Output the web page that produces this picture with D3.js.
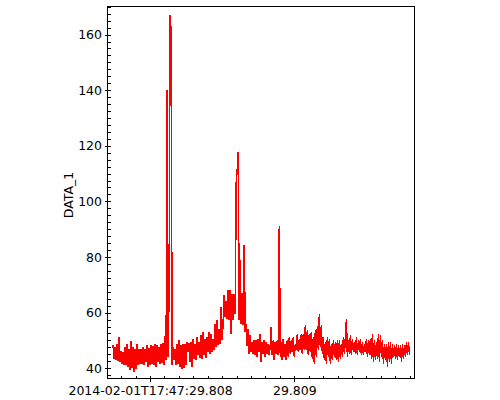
<!DOCTYPE html>
<html>
<head>
<meta charset="utf-8">
<script src="https://cdn.jsdelivr.net/npm/d3@7"></script>
<style>
  body { margin: 0; background: #fff; }
  text { font-family: "DejaVu Sans", sans-serif; font-size: 12.5px; fill: #000; }
  .tick line { shape-rendering: crispEdges; }
</style>
</head>
<body>
<svg id="viz" width="500" height="400"></svg>
<script>
// sample times are seconds within 2014-02-01T17:47
var sampleStart = 29.8077431;
var sampleStep = 0.0000069444;

// DATA_1 readings, one per sample
var signal = [
	// quiet start
	48.5,43.4, 47.6,42.8, 48.8,42.5, 51.2,42.2, 46.0,41.6, 45.8,41.0, 47.6,41.2, 48.8,40.4, 47.0,39.2, 49.7,40.0,
	47.6,38.6, 47.0,39.8, 48.8,41.0, 46.8,41.6, 47.0,41.6, 47.6,41.0, 47.0,42.2, 48.2,40.4, 47.4,41.0, 48.2,41.6,
	48.0,41.0, 48.8,40.4, 48.2,42.2, 47.6,41.6, 48.8,42.0, 49.0,41.0, 51.5,42.8,
	// first spikes
	140, 44, 68, 167, 161, 41,
	47.6,42.8, 47.0,41.0, 48.8,41.6, 50.0,40.4, 48.2,39.8, 48.8,40.0, 48.8,41.0,
	// rise
	49.5,45.8, 49.0,42.2, 49.5,40.4, 50.6,43.4, 48.8,42.8, 51.2,44.6, 49.4,43.6, 51.8,43.4, 53.0,44.6, 50.6,43.8,
	51.2,45.8, 53.0,45.2, 52.4,45.8, 50.6,46.4, 56.0,47.6, 57.2,48.2, 54.0,48.8, 62.0,50.0,
	// peak
	57.2, 66.5, 58.4, 64.0, 57.8, 68.2, 57.2, 68.0, 52.4, 66.7, 57.2, 66.5, 59.6, 106.8, 111.4, 117.6, 57.2, 79.0,
	56.0, 67.0, 55.4, 84.2, 53.0,
	// fall
	56.0,48.0, 54.2,45.2, 51.8,45.8, 49.4,45.2, 50.0,44.6, 50.0,44.0, 50.6,45.8, 52.4,42.2, 49.5,45.2, 50.0,44.0,
	49.4,45.2, 48.8,
	44.6, 48.2, 54.8, 44.6, 50.0, 42.8, 49.4, 45.2, 50.0, 44.6, 91.0, 44.0, 49.4, 42.8, 50.6, 44.0, 48.8, 42.8, 50.0, 44.0,
	51.2, 45.2, 50.0, 45.8, 51.2, 44.0, 48.8, 46.4, 52.4, 45.8, 50.6, 46.4, 52.4, 45.2, 52.4, 46.4, 55.4, 46.4, 53.6, 44.6,
	52.4, 45.8, 53.0, 43.4, 51.2, 41.6, 53.6, 44.0, 55.0, 46.4, 59.5, 47.5, 55.4, 45.2, 51.2, 42.8, 49.4, 41.6, 51.2, 44.0,
	50.6, 41.6, 48.8, 42.8, 50.0, 44.0, 49.4, 42.8, 50.0, 42.2, 50.0, 43.4, 48.8, 44.0, 51.2, 45.2, 51.2, 57.6, 44.0, 50.0,
	// tail
	45.2, 51.8, 44.6, 50.6, 45.8, 49.4, 45.2, 51.2, 44.6, 50.0, 45.8, 50.6, 44.6, 49.4, 44.6, 48.8, 45.8, 50.6, 44.0, 50.0,
	44.6, 50.6, 43.4, 52.4, 42.2, 50.0, 42.8, 49.4, 43.4, 52.4, 42.2, 51.8, 44.0, 50.0, 41.6, 48.8, 42.8, 48.8, 40.4, 49.4,
	42.2, 49.4, 41.6, 48.8, 44.0, 48.2, 43.4, 48.8, 42.8, 48.2, 44.0, 48.2, 42.2, 48.8, 43.4, 48.2, 44.0, 49.4, 44.6, 49.4, 44.6
];

var xDomain = [29.8077049, 29.8098333];
var yDomain = [36.3, 170.1];
var xMajorTicks = [29.808, 29.809];
var xTickLabels = ["2014-02-01T17:47:29.808", "29.809"];
var yMajorTicks = [40, 60, 80, 100, 120, 140, 160];
var yLabel = "DATA_1";

var box = { left: 107.5, right: 414.5, top: 6.5, bottom: 378.5 };

var svg = d3.select("#viz");

var x = d3.scaleLinear().domain(xDomain).range([box.left, box.right]);
var y = d3.scaleLinear().domain(yDomain).range([box.bottom, box.top]);

// minor ticks: 0.0001 s on x, 2.5 on y
var xMinor = d3.range(Math.ceil(xDomain[0] * 10000), Math.floor(xDomain[1] * 10000) + 1).map(function(k){ return k / 10000; });
var yMinor = d3.range(Math.ceil(yDomain[0] / 2.5), Math.floor(yDomain[1] / 2.5) + 1).map(function(k){ return k * 2.5; });

// the trace
var line = d3.line()
	.x(function(d, i) { return x(sampleStart + i * sampleStep); })
	.y(function(d) { return y(d); });

svg.append("path")
	.datum(signal)
	.attr("d", line)
	.attr("fill", "none")
	.attr("stroke", "#ff0000")
	.attr("stroke-width", 1.5)
	.attr("shape-rendering", "crispEdges");

// frame
svg.append("rect")
	.attr("x", box.left)
	.attr("y", box.top)
	.attr("width", box.right - box.left)
	.attr("height", box.bottom - box.top)
	.attr("fill", "none")
	.attr("stroke", "#000")
	.attr("stroke-width", 1)
	.attr("shape-rendering", "crispEdges");

// inward ticks
svg.append("g")
	.attr("transform", "translate(0," + box.bottom + ")")
	.call(d3.axisTop(x).tickValues(xMinor).tickSize(3).tickSizeOuter(0).tickFormat(""))
	.call(function(g){ g.select(".domain").remove(); });

svg.append("g")
	.attr("transform", "translate(" + box.left + ",0)")
	.call(d3.axisRight(y).tickValues(yMinor).tickSize(3).tickSizeOuter(0).tickFormat(""))
	.call(function(g){ g.select(".domain").remove(); });

// outward major ticks with labels
var xAxis = svg.append("g")
	.attr("transform", "translate(0," + box.bottom + ")")
	.call(d3.axisBottom(x).tickValues(xMajorTicks).tickSize(3).tickSizeOuter(0)
		.tickFormat(function(d, i) { return xTickLabels[i]; }));
xAxis.select(".domain").remove();
xAxis.selectAll("text").attr("y", 7.5).attr("font-size", 12.5).attr("font-family", "DejaVu Sans");

var yAxis = svg.append("g")
	.attr("transform", "translate(" + box.left + ",0)")
	.call(d3.axisLeft(y).tickValues(yMajorTicks).tickSize(3).tickPadding(2.5).tickSizeOuter(0));
yAxis.select(".domain").remove();
yAxis.selectAll("text").attr("font-size", 12.5).attr("font-family", "DejaVu Sans");

svg.append("text")
	.attr("transform", "translate(73,195) rotate(-90)")
	.attr("text-anchor", "middle")
	.text(yLabel);
</script>
</body>
</html>
